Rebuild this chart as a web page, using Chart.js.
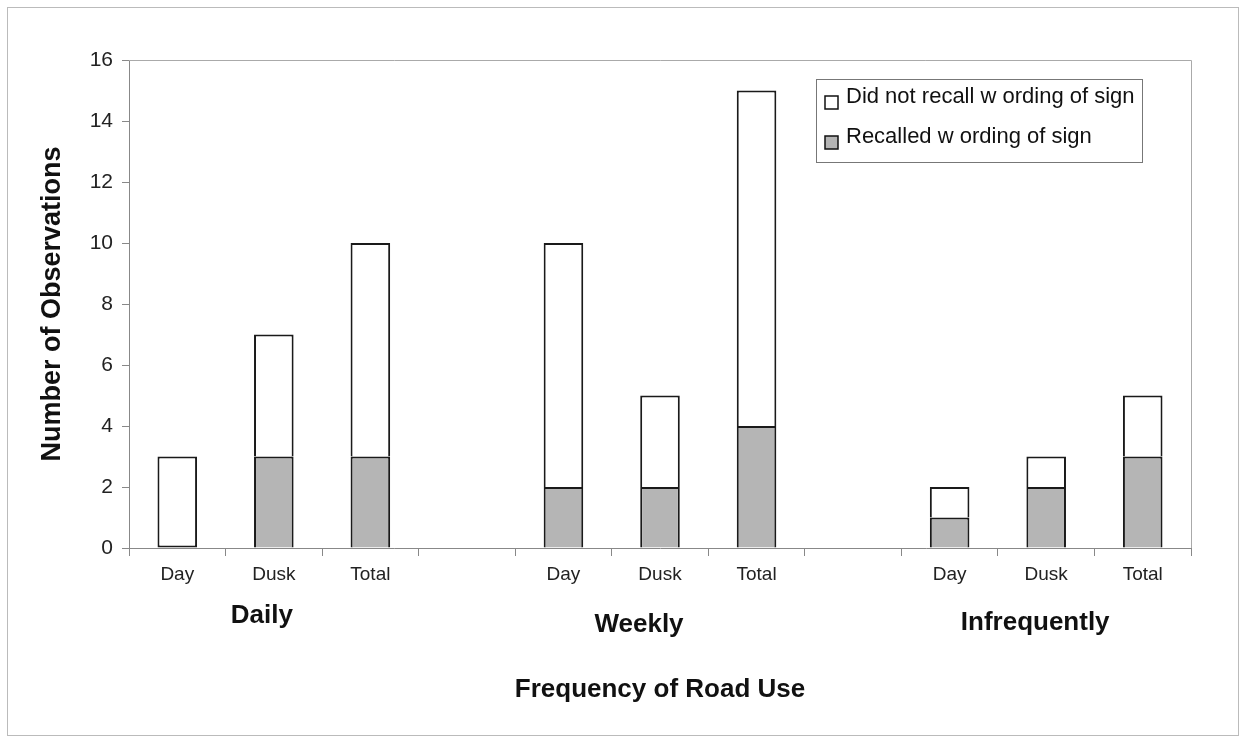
<!DOCTYPE html>
<html>
<head>
<meta charset="utf-8">
<script src="https://cdn.jsdelivr.net/npm/chart.js@4"></script>
<style>
  html, body { margin: 0; padding: 0; background: #fff; }
  #wrap { width: 1248px; height: 744px; position: relative; }
</style>
</head>
<body>
<div id="wrap"><canvas id="chart" width="1248" height="744"></canvas></div>
<script>
// categories along the x axis (blank slots separate the groups)
const categories = ['Day', 'Dusk', 'Total', '', 'Day', 'Dusk', 'Total', '', 'Day', 'Dusk', 'Total'];
const groups = ['Daily', 'Weekly', 'Infrequently'];
const groupCentre = [1, 5, 9]; // index of the category each group name sits under

const recalled    = [0, 3, 3, null, 2, 2, 4, null, 1, 2, 3];
const notRecalled = [3, 4, 7, null, 8, 3, 11, null, 1, 1, 2];

const yTicks = [0, 2, 4, 6, 8, 10, 12, 14, 16];

const FONT = '"Liberation Sans", Arial, sans-serif';

const extras = {
    id: 'extras',
    afterDraw(chart) {
        const ctx = chart.ctx;
        const a = chart.chartArea;
        const x = chart.scales.x;
        ctx.save();

        // outer frame
        ctx.strokeStyle = '#bbb';
        ctx.lineWidth = 1;
        ctx.strokeRect(7.5, 7.5, 1231, 728);

        // plot area top and right border
        ctx.strokeStyle = '#aaa';
        ctx.beginPath();
        ctx.moveTo(a.left, a.top + 0.5);
        ctx.lineTo(a.right + 0.5, a.top + 0.5);
        ctx.lineTo(a.right + 0.5, a.bottom);
        ctx.stroke();

        // group names under the category labels
        ctx.fillStyle = '#111';
        ctx.font = 'bold 26px ' + FONT;
        ctx.textAlign = 'center';
        ctx.textBaseline = 'middle';
        const shiftX = [-12, -21, -11];
        const groupY = [616, 625, 623];
        groups.forEach((g, i) => {
            ctx.fillText(g, x.getPixelForValue(groupCentre[i]) + shiftX[i], groupY[i]);
        });

        // legend box
        const lx = 816, ly = 79, lw = 326, lh = 83;
        ctx.fillStyle = '#fff';
        ctx.fillRect(lx, ly, lw, lh);
        ctx.strokeStyle = '#777';
        ctx.lineWidth = 1;
        ctx.strokeRect(lx + 0.5, ly + 0.5, lw, lh);
        const items = [chart.data.datasets[1], chart.data.datasets[0]];
        ctx.font = '22px ' + FONT;
        ctx.textAlign = 'left';
        items.forEach((ds, i) => {
            const yy = ly + 17 + i * 40;
            ctx.fillStyle = ds.backgroundColor;
            ctx.fillRect(lx + 9, yy, 13, 13);
            ctx.strokeStyle = '#111';
            ctx.lineWidth = 1.5;
            ctx.strokeRect(lx + 9, yy, 13, 13);
            ctx.fillStyle = '#111';
            ctx.fillText(ds.label, lx + 30, yy + 1);
        });
        ctx.restore();
    }
};

new Chart(document.getElementById('chart'), {
    type: 'bar',
    data: {
        labels: categories,
        datasets: [
            {
                label: 'Recalled w ording of sign',
                data: recalled,
                backgroundColor: '#b5b5b5',
                borderColor: '#1a1a1a',
                borderWidth: 2,
                borderSkipped: 'start'
            },
            {
                label: 'Did not recall w ording of sign',
                data: notRecalled,
                backgroundColor: '#ffffff',
                borderColor: '#1a1a1a',
                borderWidth: 2,
                // keep the bottom edge when nothing sits below it
                borderSkipped: c => (recalled[c.dataIndex] ? 'start' : false)
            }
        ]
    },
    options: {
        responsive: false,
        animation: false,
        datasets: { bar: { barPercentage: 0.41, categoryPercentage: 1 } },
        layout: { padding: { left: 10, right: 57, top: 60, bottom: 8 } },
        plugins: {
            legend: { display: false },
            tooltip: { enabled: false }
        },
        scales: {
            x: {
                stacked: true,
                afterFit: s => { s.height = 188; },
                grid: { drawOnChartArea: false, drawTicks: true, tickLength: 8, color: '#888', offset: true },
                border: { color: '#888' },
                ticks: { color: '#222', font: { family: FONT, size: 19 }, padding: 7, maxRotation: 0, autoSkip: false },
                title: {
                    display: true,
                    text: 'Frequency of Road Use',
                    color: '#111',
                    font: { family: FONT, size: 26, weight: 'bold' },
                    padding: { top: 0, bottom: 31 },
                    align: 'center'
                }
            },
            y: {
                stacked: true,
                min: 0,
                max: 16,
                afterFit: s => { s.width = 119; },
                afterBuildTicks: s => { s.ticks = yTicks.map(v => ({ value: v })); },
                grid: { drawOnChartArea: false, drawTicks: true, tickLength: 7, color: '#888' },
                border: { color: '#888' },
                ticks: { color: '#222', font: { family: FONT, size: 21 }, padding: 9 },
                title: {
                    display: true,
                    text: 'Number of Observations',
                    color: '#111',
                    font: { family: FONT, size: 27, weight: 'bold' },
                    padding: { top: 26, bottom: 0 }
                }
            }
        }
    },
    plugins: [extras]
});
</script>
</body>
</html>
